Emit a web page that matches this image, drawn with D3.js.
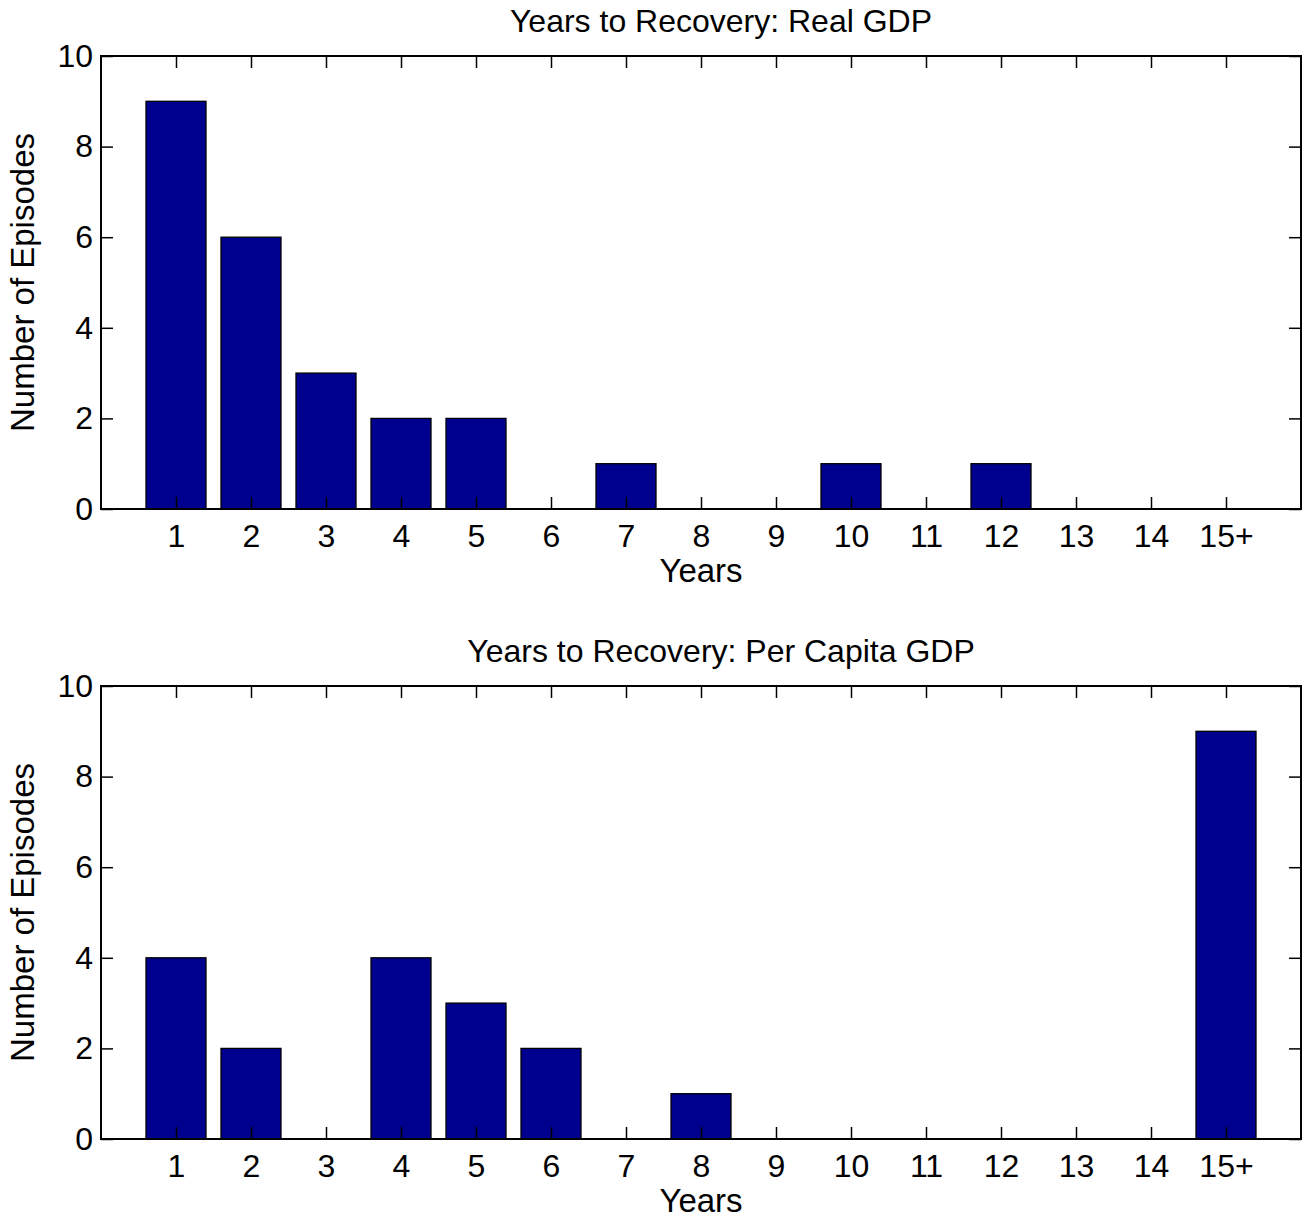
<!DOCTYPE html>
<html>
<head>
<meta charset="utf-8">
<script src="https://cdn.jsdelivr.net/npm/d3@7"></script>
<style>
  body { margin: 0; background: #fff; }
  text { font-family: "Liberation Sans", Arial, Helvetica, sans-serif; fill: #000; }
</style>
</head>
<body>
<div id="chart"></div>
<script>
// categories (years to recovery)
const years = ['1', '2', '3', '4', '5', '6', '7', '8', '9', '10', '11', '12', '13', '14', '15+'];
// number of episodes per category
const realGdp = [9, 6, 3, 2, 2, 0, 1, 0, 0, 1, 0, 1, 0, 0, 0];
const perCapitaGdp = [4, 2, 0, 4, 3, 2, 0, 1, 0, 0, 0, 0, 0, 0, 9];
const yTicks = [0, 2, 4, 6, 8, 10];

const width = 1309, height = 1220;
const tickFont = 32, labelFont = 33;
const barColor = '#00008f';

const svg = d3.select('#chart')
  .append('svg')
  .attr('width', width)
  .attr('height', height);

const panels = [
  { title: 'Years to Recovery: Real GDP', values: realGdp, top: 56, bottom: 509 },
  { title: 'Years to Recovery: Per Capita GDP', values: perCapitaGdp, top: 686, bottom: 1139 }
];

const left = 101, right = 1301, tickLen = 12;

panels.forEach(p => {
  const g = svg.append('g');

  const x = d3.scaleLinear().domain([0, years.length + 1]).range([left, right]);
  const y = d3.scaleLinear().domain([0, 10]).range([p.bottom, p.top]);
  const barW = (x(1) - x(0)) * 0.8;

  // bars
  g.append('g')
    .selectAll('rect')
    .data(p.values.map((v, i) => ({ v, i })).filter(d => d.v > 0))
    .enter().append('rect')
    .attr('x', d => x(d.i + 1) - barW / 2)
    .attr('y', d => y(d.v))
    .attr('width', barW)
    .attr('height', d => y(0) - y(d.v))
    .attr('fill', barColor)
    .attr('stroke', '#000')
    .attr('stroke-width', 1.3);

  const xTickVals = years.map((d, i) => i + 1);

  // bottom axis with labels, inward ticks
  g.append('g')
    .attr('transform', `translate(0,${p.bottom})`)
    .call(d3.axisBottom(x).tickValues(xTickVals)
      .tickFormat(d => years[d - 1]).tickSize(-tickLen).tickPadding(15).tickSizeOuter(0))
    .call(a => a.selectAll('text').attr('font-size', tickFont).attr('font-family', null));

  // top axis, ticks only
  g.append('g')
    .attr('transform', `translate(0,${p.top})`)
    .call(d3.axisTop(x).tickValues(xTickVals).tickFormat('').tickSize(-tickLen).tickSizeOuter(0));

  // left axis with labels
  g.append('g')
    .attr('transform', `translate(${left},0)`)
    .call(d3.axisLeft(y).tickValues(yTicks).tickSize(-tickLen).tickPadding(8).tickSizeOuter(0))
    .call(a => a.selectAll('text').attr('font-size', tickFont).attr('font-family', null));

  // right axis, ticks only
  g.append('g')
    .attr('transform', `translate(${right},0)`)
    .call(d3.axisRight(y).tickValues(yTicks).tickFormat('').tickSize(-tickLen).tickSizeOuter(0));

  g.selectAll('.domain').remove();
  g.selectAll('.tick line').attr('stroke', '#000').attr('stroke-width', 1.5);

  // box
  g.append('rect')
    .attr('x', left).attr('y', p.top)
    .attr('width', right - left).attr('height', p.bottom - p.top)
    .attr('fill', 'none').attr('stroke', '#000').attr('stroke-width', 2);

  // title
  g.append('text')
    .attr('x', (left + right) / 2 + 20)
    .attr('y', p.top - 24)
    .attr('text-anchor', 'middle')
    .attr('font-size', 32)
    .text(p.title);

  // x label
  g.append('text')
    .attr('x', (left + right) / 2)
    .attr('y', p.bottom + 73)
    .attr('text-anchor', 'middle')
    .attr('font-size', labelFont)
    .text('Years');

  // y label
  g.append('text')
    .attr('transform', `translate(34,${(p.top + p.bottom) / 2}) rotate(-90)`)
    .attr('text-anchor', 'middle')
    .attr('font-size', labelFont)
    .text('Number of Episodes');
});
</script>
</body>
</html>
